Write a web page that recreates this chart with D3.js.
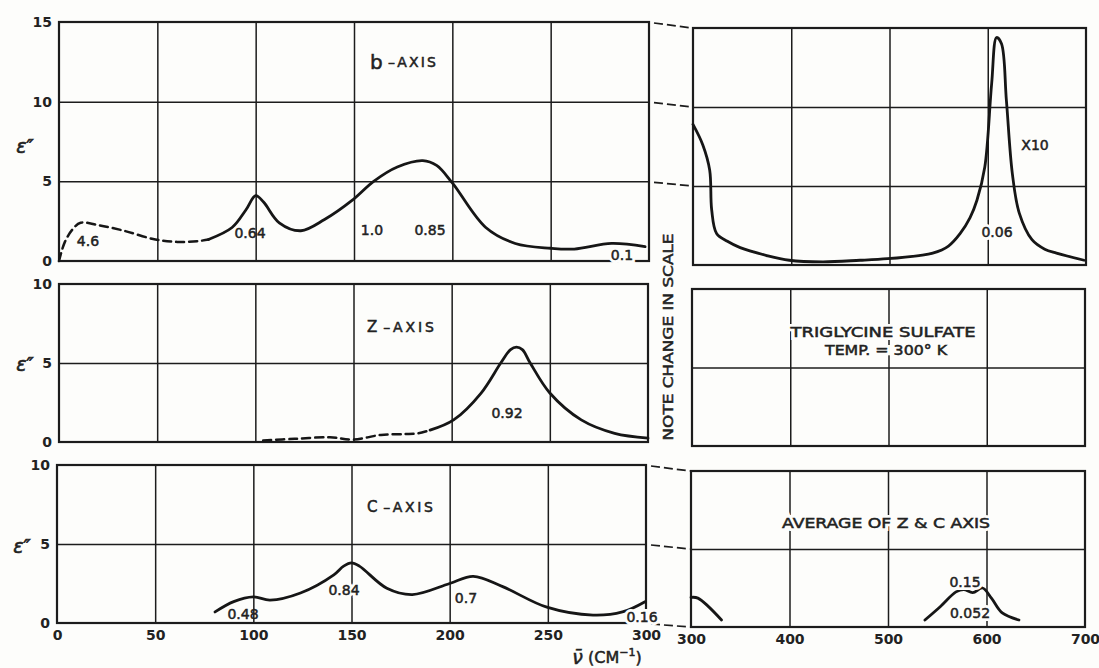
<!DOCTYPE html>
<html>
<head>
<meta charset="utf-8">
<script src="https://cdn.jsdelivr.net/npm/d3@7"></script>
<style>
  body { margin: 0; background: #fdfdfb; }
  svg text { font-family: "DejaVu Sans", sans-serif; fill: #222; }
</style>
</head>
<body>
<div id="chart"></div>
<script>
// b-axis, 0-300 cm-1
const bDashed = [[0, 0], [3, 1.2], [7, 2.0], [11, 2.4], [20, 2.25], [33, 1.9], [49, 1.35], [60, 1.2], [71, 1.25], [76, 1.35]];
const bSolid = [[76, 1.35], [88, 2.1], [95, 3.2], [100, 4.1], [104, 3.7], [112, 2.4], [123, 1.9], [135, 2.6], [149, 3.8], [160, 5.0], [172, 5.9], [185, 6.3], [192, 6.0], [200, 4.9], [217, 2.1], [232, 1.1], [250, 0.8], [262, 0.75], [281, 1.1], [298, 0.9]];
// b-axis x10, 300-700 cm-1
const bWide = [[300, 8.9], [310, 7.6], [317, 6.0], [319, 3.5], [324, 2.0], [335, 1.5], [348, 1.1], [375, 0.6], [398, 0.3], [432, 0.2], [470, 0.3], [498, 0.4], [530, 0.6], [544, 0.75], [560, 1.2], [572, 2.0], [582, 3.0], [589, 4.1], [597, 6.2], [604, 11.5], [609, 14.4], [614, 14.0], [619, 10.4], [625, 5.8], [632, 3.3], [645, 1.6], [658, 1.0], [670, 0.75], [698, 0.3]];
// z-axis
const zDashed = [[104, 0.1], [120, 0.2], [138, 0.3], [150, 0.15], [164, 0.45], [176, 0.5], [183, 0.55], [189, 0.75]];
const zSolid = [[189, 0.75], [201, 1.4], [215, 3.1], [225, 5.0], [230, 5.85], [233, 6.0], [236, 5.85], [240, 5.0], [250, 3.1], [266, 1.4], [283, 0.55], [300, 0.25]];
// c-axis
const cSolid = [[80.5, 0.7], [90, 1.35], [100, 1.65], [108.5, 1.45], [124, 1.9], [141, 3.05], [146, 3.6], [150, 3.8], [154, 3.6], [168, 2.2], [181, 1.8], [200, 2.5], [212, 2.95], [227, 2.3], [249.5, 1.0], [273, 0.5], [288, 0.7], [299.5, 1.35]];
// average of z & c, 300-700
const avgLow = [[300, 1.9], [307, 1.85], [331, 0.45]];
const avgHigh = [[537.5, 0.45], [553, 1.3], [569, 2.25], [577, 2.4], [586, 2.2], [596, 2.5], [605, 1.85], [616, 0.9], [633, 0.45]];

const xTicksLeft = [0, 50, 100, 150, 200, 250, 300];
const xTicksRight = [300, 400, 500, 600, 700];
const yTicksTop = [0, 5, 10, 15];
const yTicksLow = [0, 5, 10];

const width = 1099, height = 668;
const ink = "#1c1c1c";
const paper = "#fdfdfb";
const svg = d3.select("#chart").append("svg")
    .attr("width", width)
    .attr("height", height);

// panel frames (pixel boxes)
const panels = {
    bL: { x: [59, 649], y: [261, 22], xd: [0, 300], yd: [0, 15] },
    bR: { x: [693, 1086], y: [265, 28], xd: [300, 700], yd: [0, 15] },
    zL: { x: [59, 648], y: [442, 284], xd: [0, 300], yd: [0, 10] },
    zR: { x: [692, 1085], y: [446, 289], xd: [300, 700], yd: [0, 10] },
    cL: { x: [57, 646], y: [623, 465], xd: [0, 300], yd: [0, 10] },
    cR: { x: [691, 1085], y: [627, 471], xd: [300, 700], yd: [0, 10] }
};

Object.values(panels).forEach(p => {
    p.sx = d3.scaleLinear().domain(p.xd).range(p.x);
    p.sy = d3.scaleLinear().domain(p.yd).range(p.y);
});

function drawFrame(p, xGrid, yGrid) {
    const g = svg.append("g");
    const w = p.x[1] - p.x[0], h = p.y[0] - p.y[1];
    g.append("g")
        .attr("transform", `translate(0,${p.y[0]})`)
        .call(d3.axisBottom(p.sx).tickValues(xGrid).tickSize(-h).tickFormat(""))
        .call(a => a.select(".domain").remove())
        .selectAll("line").attr("stroke", ink).attr("stroke-width", 1.5);
    g.append("g")
        .attr("transform", `translate(${p.x[0]},0)`)
        .call(d3.axisLeft(p.sy).tickValues(yGrid).tickSize(-w).tickFormat(""))
        .call(a => a.select(".domain").remove())
        .selectAll("line").attr("stroke", ink).attr("stroke-width", 1.5);
    g.append("rect")
        .attr("x", p.x[0]).attr("y", p.y[1])
        .attr("width", w).attr("height", h)
        .attr("fill", "none").attr("stroke", ink).attr("stroke-width", 2.2);
    return g;
}

drawFrame(panels.bL, [50, 100, 150, 200, 250], [5, 10]);
drawFrame(panels.bR, [400, 500, 600], [5, 10]);
drawFrame(panels.zL, [50, 100, 150, 200, 250], [5]);
drawFrame(panels.zR, [400, 500, 600], [5]);
drawFrame(panels.cL, [50, 100, 150, 200, 250], [5]);
drawFrame(panels.cR, [400, 500, 600], [5]);

function styleTickText(sel) {
    sel.attr("font-size", 14).attr("font-weight", "bold")
        .style("font-family", "DejaVu Sans").attr("fill", "#222");
}

// y tick labels on left panels
function yLabels(p, ticks) {
    svg.append("g")
        .attr("transform", `translate(${p.x[0]},0)`)
        .call(d3.axisLeft(p.sy).tickValues(ticks).tickSize(0).tickPadding(7))
        .call(a => a.select(".domain").remove())
        .selectAll("text").call(styleTickText);
}
yLabels(panels.bL, yTicksTop);
yLabels(panels.zL, yTicksLow);
yLabels(panels.cL, yTicksLow);

// x tick labels under bottom panels
function xLabels(p, ticks) {
    svg.append("g")
        .attr("transform", `translate(0,${p.y[0]})`)
        .call(d3.axisBottom(p.sx).tickValues(ticks).tickSize(0).tickPadding(7))
        .call(a => a.select(".domain").remove())
        .selectAll("text").call(styleTickText);
}
xLabels(panels.cL, xTicksLeft);
xLabels(panels.cR, xTicksRight);

// dashed connectors between the two scales
function connectors(pl, pr, vals) {
    vals.forEach(v => {
        svg.append("line")
            .attr("x1", pl.x[1] + 5).attr("x2", pr.x[0] - 1)
            .attr("y1", pl.sy(v) + 1).attr("y2", pr.sy(v))
            .attr("stroke", ink).attr("stroke-width", 1.7)
            .attr("stroke-dasharray", "9,4");
    });
}
connectors(panels.bL, panels.bR, [15, 10, 5]);
connectors(panels.cL, panels.cR, [10, 5, 0]);

// curves
function curve(p, data, dashed) {
    const line = d3.line()
        .x(d => p.sx(d[0]))
        .y(d => p.sy(d[1]))
        .curve(d3.curveCatmullRom.alpha(0.5));
    svg.append("path")
        .datum(data)
        .attr("d", line)
        .attr("fill", "none")
        .attr("stroke", "#161616")
        .attr("stroke-width", dashed ? 2.5 : 2.8)
        .attr("stroke-linecap", "round")
        .attr("stroke-dasharray", dashed ? "8,5" : null);
}
curve(panels.bL, bDashed, true);
curve(panels.bL, bSolid, false);
curve(panels.bR, bWide, false);
curve(panels.zL, zDashed, true);
curve(panels.zL, zSolid, false);
curve(panels.cL, cSolid, false);
curve(panels.cR, avgLow, false);
curve(panels.cR, avgHigh, false);

// text helpers
function label(x, y, txt, opts = {}) {
    const make = () => {
        const t = svg.append("text")
            .attr("x", x).attr("y", y)
            .attr("font-size", opts.size || 14)
            .attr("text-anchor", opts.anchor || "middle")
            .attr("dominant-baseline", "central")
            .text(txt);
        if (opts.len) t.attr("textLength", opts.len).attr("lengthAdjust", "spacingAndGlyphs");
        return t;
    };
    if (opts.halo) {
        // paper-coloured knock-out behind the lettering
        make().attr("fill", paper).attr("stroke", paper).attr("stroke-width", 6);
    }
    return make().attr("stroke", "#222").attr("stroke-width", 0.5);
}

function axisTitle(x, y, first, firstSize, len) {
    const t = svg.append("text")
        .attr("x", x).attr("y", y)
        .attr("dominant-baseline", "central")
        .attr("stroke", "#222").attr("stroke-width", 0.5)
        .attr("textLength", len).attr("lengthAdjust", "spacing");
    t.append("tspan").attr("font-size", firstSize).text(first);
    t.append("tspan").attr("font-size", 14).attr("dx", 3).text("\u2013AXIS");
    return t;
}

// epsilon'' labels
function eps(x, y) {
    svg.append("text")
        .attr("x", x).attr("y", y)
        .attr("text-anchor", "middle")
        .attr("dominant-baseline", "central")
        .attr("font-size", 19).attr("font-style", "italic")
        .attr("stroke", "#222").attr("stroke-width", 0.6)
        .text("\u03B5\u2033");
}
eps(25, 146);
eps(25, 364);
eps(22, 546);

axisTitle(370, 62, "b", 20, 66);
axisTitle(367, 327, "Z", 15, 67);
axisTitle(367, 507, "C", 15, 66);

// peak annotations
label(88, 241, "4.6");
label(250, 233, "0.64");
label(372, 230, "1.0");
label(430, 230, "0.85");
label(622, 255, "0.1", { halo: true });
label(1035, 145, "X10");
label(997, 232, "0.06", { halo: true });
label(507, 413, "0.92");
label(243, 614, "0.48");
label(344, 590, "0.84", { halo: true });
label(466, 598, "0.7");
label(642, 617, "0.16", { halo: true });
label(965, 582, "0.15", { halo: true });
label(970, 613, "0.052", { halo: true });

// notes
label(883, 332, "TRIGLYCINE  SULFATE", { size: 14, halo: true, len: 185 });
label(886, 350, "TEMP. = 300\u00B0 K", { size: 14, halo: true, len: 122 });
label(886, 523, "AVERAGE OF Z & C AXIS", { size: 14, halo: true, len: 208 });

label(668, 337, "NOTE  CHANGE  IN  SCALE", { size: 14, len: 207 })
    .attr("transform", "rotate(-90,668,337)");

// x axis title
const xt = svg.append("text")
    .attr("x", 607).attr("y", 657)
    .attr("text-anchor", "middle")
    .attr("dominant-baseline", "central")
    .attr("stroke", "#222").attr("stroke-width", 0.5)
    .attr("font-size", 16);
xt.append("tspan").attr("font-style", "italic").attr("font-size", 19).text("\u03BD\u0304");
xt.append("tspan").text(" (CM");
xt.append("tspan").attr("font-size", 11).attr("dy", -5).text("\u22121");
xt.append("tspan").attr("dy", 5).text(")");
</script>
</body>
</html>
